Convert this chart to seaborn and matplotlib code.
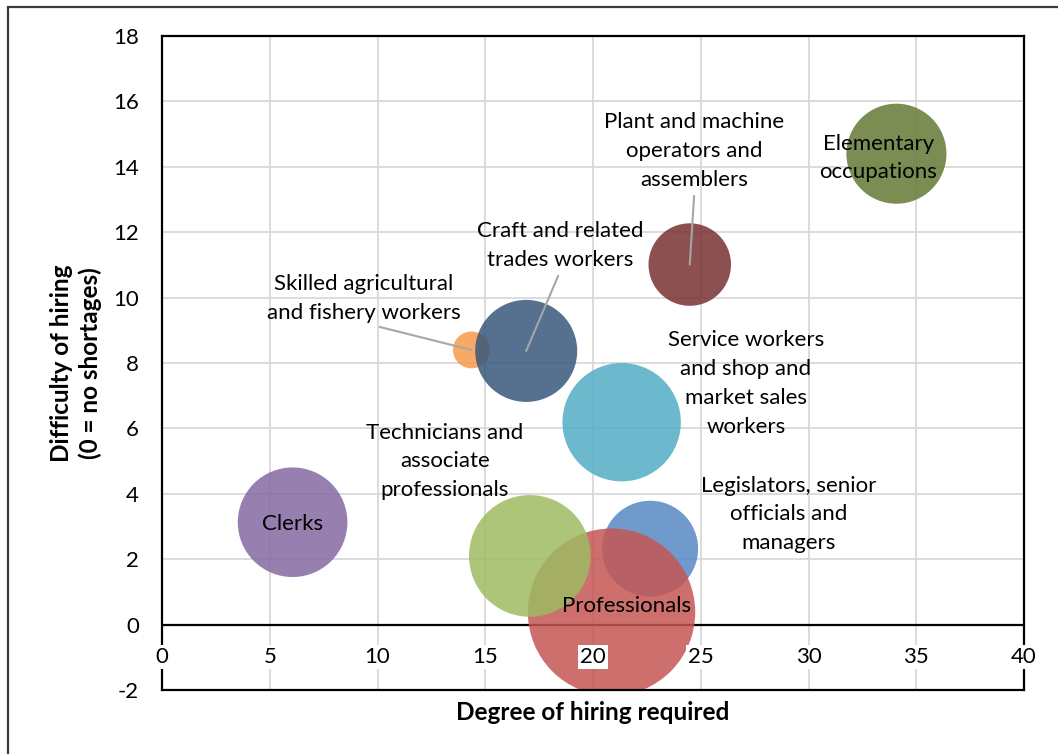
import matplotlib
matplotlib.use("Agg")
import matplotlib.pyplot as plt
import seaborn as sns
import pandas as pd
from matplotlib.patches import Rectangle

# ---------------- data ----------------
occupations = [
    "Legislators, senior officials and managers",
    "Professionals",
    "Technicians and associate professionals",
    "Clerks",
    "Service workers and shop and market sales workers",
    "Skilled agricultural and fishery workers",
    "Craft and related trades workers",
    "Plant and machine operators and assemblers",
    "Elementary occupations",
]
label_text = [
    "Legislators, senior\nofficials and\nmanagers",
    "Professionals",
    "Technicians and\nassociate\nprofessionals",
    "Clerks",
    "Service workers\nand shop and\nmarket sales\nworkers",
    "Skilled agricultural\nand fishery workers",
    "Craft and related\ntrades workers",
    "Plant and machine\noperators and\nassemblers",
    "Elementary\noccupations",
]
degree_of_hiring = [22.65, 20.86, 17.07, 6.06, 21.33, 14.36, 16.90, 24.49, 34.08]
difficulty_of_hiring = [2.32, 0.38, 2.10, 3.13, 6.19, 8.40, 8.37, 11.01, 14.40]
bubble_size = [2.3, 7.0, 3.7, 3.0, 3.5, 0.34, 2.6, 1.7, 2.5]
x_ticks = [0, 5, 10, 15, 20, 25, 30, 35, 40]
y_ticks = [-2, 0, 2, 4, 6, 8, 10, 12, 14, 16, 18]

# ---------------- styles / layout ----------------
colors = ["#5688C2", "#C45653", "#9FBB62", "#856AA3", "#52ADC5",
          "#F69A4A", "#38577B", "#793131", "#647935"]
# label centre positions (data coords) and whether a leader line is drawn
label_pos = [(29.07, 3.37), (21.54, 0.56), (13.12, 4.99), (6.06, 3.09),
             (27.09, 7.37), (9.37, 9.97), (18.50, 11.59), (24.71, 14.48),
             (33.24, 14.27)]
leader = [False, False, False, False, False, True, True, True, False]

sns.set_theme(style="white")
plt.rcParams["font.family"] = ["Lato", "DejaVu Sans"]
plt.rcParams["axes.unicode_minus"] = False
FS = 16
LS = 1.55

df = pd.DataFrame({
    "occupation": occupations,
    "degree": degree_of_hiring,
    "difficulty": difficulty_of_hiring,
    "size": bubble_size,
})
palette = dict(zip(occupations, colors))

W, H = 1058, 754
fig = plt.figure(figsize=(W / 100, H / 100), dpi=100)
ax = fig.add_axes([162 / W, 1 - 690 / H, 862 / W, 654 / H])

max_size = max(bubble_size)
smax = (2 * 83.7 * 0.72) ** 2
sns.scatterplot(data=df, x="degree", y="difficulty", hue="occupation",
                palette=palette, size="size", sizes=(0, smax),
                size_norm=(0, max_size), alpha=0.85, linewidth=0,
                legend=False, ax=ax, zorder=2)

ax.set_xlim(0, 40)
ax.set_ylim(-2, 18)
ax.set_xticks(x_ticks)
ax.set_yticks(y_ticks)
ax.set_xticklabels([])
ax.set_yticklabels([str(t) for t in y_ticks])
ax.tick_params(axis="both", length=0)
ax.tick_params(axis="y", pad=16.5, labelsize=FS, labelcolor="black")
ax.grid(True, color="#D9D9D9", lw=1.3)
ax.set_axisbelow(True)
for s in ax.spines.values():
    s.set_color("black")
    s.set_linewidth(1.6)
    s.set_visible(True)

ax.axhline(0, color="black", lw=1.6, zorder=1.5)

for t in x_ticks:
    ax.text(t, -1, str(t), ha="center", va="center", fontsize=FS,
            color="black", zorder=5,
            bbox=dict(facecolor="white", edgecolor="none", pad=1.5))

ax.set_xlabel("Degree of hiring required", fontsize=17.5, fontweight="bold",
              color="black")
ax.xaxis.set_label_coords(0.5, -(713 - 690) / 654)
ax.xaxis.label.set_va("center")
ax.set_ylabel("Difficulty of hiring\n(0 = no shortages)", fontsize=17.5,
              fontweight="bold", color="black", linespacing=1.3)
ax.yaxis.set_label_coords((76 - 162) / 862, 0.5)
ax.yaxis.label.set_va("center")

for i, txt in enumerate(label_text):
    tx, ty = label_pos[i]
    if leader[i]:
        ax.annotate(txt, xy=(degree_of_hiring[i], difficulty_of_hiring[i]),
                    xytext=(tx, ty), ha="center", va="center", fontsize=FS,
                    color="black", linespacing=LS, zorder=4,
                    arrowprops=dict(arrowstyle="-", color="#A6A6A6", lw=1.5,
                                    relpos=(0.5, 0.0), shrinkA=2, shrinkB=0))
    else:
        ax.text(tx, ty, txt, ha="center", va="center", fontsize=FS,
                color="black", linespacing=LS, zorder=4)

fig.add_artist(Rectangle((8 / W, -0.05), 1.2, 1 - 7 / H + 0.05,
                         transform=fig.transFigure, fill=False,
                         edgecolor="#3A3A3A", lw=1.6))

fig.savefig("out.png", dpi=100, facecolor="white")
